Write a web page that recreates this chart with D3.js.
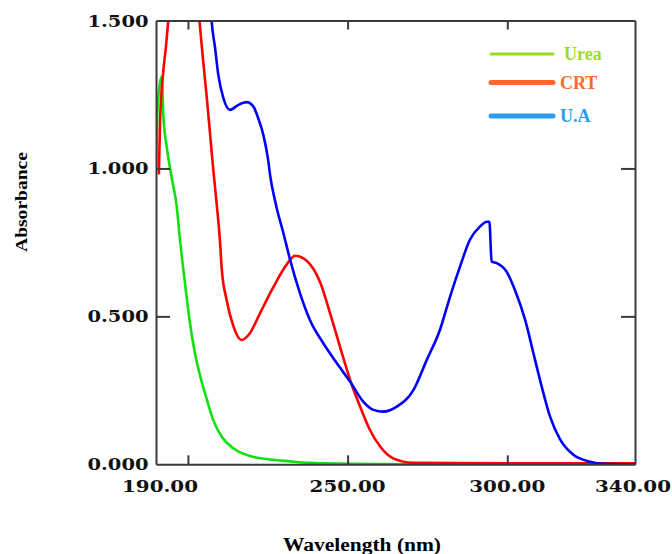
<!DOCTYPE html>
<html><head><meta charset="utf-8">
<script src="https://cdn.jsdelivr.net/npm/d3@7"></script>
<style>html,body{margin:0;padding:0;background:#fff;}</style>
</head><body>
<svg id="chart" width="672" height="554"></svg>
<script>
// ---- data ----
const ureaWl = [190.0,190.4,191.0,191.8,192.3,193.4,194.9,196.5,197.5,199.1,200.6,202.2,203.8,205.9,207.9,210.6,214.2,219.4,225.2,232,238,257,280,300,340];
const ureaAbs = [1.00,1.18,1.27,1.31,1.18,1.07,0.97,0.87,0.76,0.61,0.48,0.375,0.30,0.22,0.15,0.093,0.054,0.028,0.017,0.010,0.005,0.001,0.0,0.002,0.0];

const crtWl = [190.9,191.25,192.3,193.1,193.85,195.5,198.5,201.5,203.6,204.8,205.9,206.9,207.9,209.0,210.0,210.6,212.1,214.2,216.8,219.4,222.6,226.7,230.9,233.5,237.2,241.4,244.5,247.6,250.8,253.9,257.0,260.2,264.3,270.5,300,340];
const crtAbs = [0.98,1.15,1.33,1.41,1.50,1.70,1.80,1.72,1.50,1.36,1.24,1.12,1.00,0.88,0.76,0.66,0.556,0.468,0.42,0.443,0.511,0.598,0.675,0.705,0.688,0.615,0.511,0.398,0.285,0.195,0.116,0.060,0.020,0.005,0.003,0.003];

const uaWl = [206.8,207.4,208.5,209.5,211.1,213.2,215.8,218.4,220.5,222.0,223.6,225.2,225.7,227.5,229.9,232.0,235.1,238.2,242.4,246.6,250.8,254.9,258.1,261.2,265.4,270.6,274.8,278.9,282.1,285.2,288.3,291.5,293.6,294.4,295.1,296.7,299.8,302.4,305.6,308.2,310.8,313.4,316.5,320.7,325.9,330.0,340];
const uaAbs = [1.60,1.50,1.407,1.317,1.238,1.198,1.215,1.224,1.209,1.170,1.114,1.023,0.98,0.88,0.781,0.691,0.578,0.488,0.409,0.342,0.279,0.212,0.184,0.178,0.195,0.251,0.353,0.454,0.567,0.668,0.759,0.804,0.820,0.820,0.685,0.680,0.651,0.589,0.488,0.375,0.262,0.161,0.085,0.032,0.009,0.002,0.0];

const seriesNames = ["Urea","CRT","U.A"];
const xTickMarks = [200,250,300];
const xTickLabels = [190,250,300,340];
const yTicks = [0,0.5,1.0,1.5];

// ---- layout ----
const svg = d3.select("#chart");
const L = 156, R = 635, T = 20.5, B = 464.3;
const x = d3.scaleLinear().domain([190,340]).range([L,R]);
const y = d3.scaleLinear().domain([0,1.5]).range([B,T]);

svg.append("defs").append("clipPath").attr("id","clip")
  .append("rect").attr("x",L).attr("y",T).attr("width",R-L).attr("height",B-T);

const curveColors = ["#11e011","#ff0000","#0000ff"];
const legendColors = ["#99dd22","#ff6a2a","#2a9df0"];
const sets = [[ureaWl,ureaAbs],[crtWl,crtAbs],[uaWl,uaAbs]];

const line = d3.line().x(d=>x(d[0])).y(d=>y(d[1])).curve(d3.curveMonotoneX);
const g = svg.append("g").attr("clip-path","url(#clip)");
sets.forEach((s,i)=>{
  const pts = s[0].map((w,j)=>[w,s[1][j]]);
  g.append("path").attr("d",line(pts)).attr("fill","none")
    .attr("stroke",curveColors[i]).attr("stroke-width",2.6).attr("stroke-linejoin","round");
});

// axes (frame)
const axisColor = "#3a3a3a";
const axBottom = svg.append("g").attr("transform",`translate(0,${B})`)
  .call(d3.axisBottom(x).tickValues(xTickMarks).tickSizeInner(-9).tickSizeOuter(0).tickFormat(""));
const axTop = svg.append("g").attr("transform",`translate(0,${T})`)
  .call(d3.axisTop(x).tickValues(xTickMarks).tickSizeInner(-9).tickSizeOuter(0).tickFormat(""));
const axLeft = svg.append("g").attr("transform",`translate(${L},0)`)
  .call(d3.axisLeft(y).tickValues([0.5,1.0]).tickSizeInner(-14).tickSizeOuter(0).tickFormat(""));
const axRight = svg.append("g").attr("transform",`translate(${R},0)`)
  .call(d3.axisRight(y).tickValues([0.5,1.0]).tickSizeInner(-14).tickSizeOuter(0).tickFormat(""));
[axBottom,axTop,axLeft,axRight].forEach(a=>{
  a.select(".domain").attr("stroke",axisColor).attr("stroke-width",2);
  a.selectAll(".tick line").attr("stroke",axisColor).attr("stroke-width",2);
});

// tick labels
const tickFont = "'DejaVu Serif', serif";
svg.append("g").selectAll("text").data(yTicks).join("text")
  .attr("x",148.5).attr("y",d=>y(d)+6)
  .attr("text-anchor","end").attr("font-family",tickFont).attr("font-weight","bold")
  .attr("font-size",16.5).attr("fill","#111")
  .attr("textLength",61).attr("lengthAdjust","spacingAndGlyphs")
  .text(d=>d3.format(".3f")(d));
svg.append("g").selectAll("text").data(xTickLabels).join("text")
  .attr("x",d=>x(d)+ (d===190?4:(d===340?-2:0))).attr("y",492)
  .attr("text-anchor","middle").attr("font-family",tickFont).attr("font-weight","bold")
  .attr("font-size",16.5).attr("fill","#111")
  .attr("textLength",76).attr("lengthAdjust","spacingAndGlyphs")
  .text(d=>d3.format(".2f")(d));

// axis titles
const titleFont = "'Liberation Serif','Times New Roman',serif";
svg.append("text").attr("x",362).attr("y",551).attr("text-anchor","middle")
  .attr("font-family",titleFont).attr("font-weight","bold").attr("font-size",18)
  .attr("textLength",158).attr("lengthAdjust","spacingAndGlyphs").attr("fill","#000")
  .text("Wavelength (nm)");
svg.append("text").attr("transform","translate(27,202) rotate(-90)").attr("text-anchor","middle")
  .attr("font-family",titleFont).attr("font-weight","bold").attr("font-size",17)
  .attr("textLength",100).attr("lengthAdjust","spacingAndGlyphs").attr("fill","#000")
  .text("Absorbance");

// legend
const legY = [54,82.5,116];
const leg = svg.append("g");
seriesNames.forEach((n,i)=>{
  leg.append("line").attr("x1",491).attr("x2",553).attr("y1",legY[i]).attr("y2",legY[i])
    .attr("stroke",legendColors[i]).attr("stroke-width",i===0?3:5).attr("stroke-linecap","round");
  leg.append("text").attr("x",i===0?564:560).attr("y",legY[i]+6)
    .attr("font-family",titleFont).attr("font-weight","bold").attr("font-size",18)
    .attr("fill",legendColors[i]).text(n);
});
</script>
</body></html>
